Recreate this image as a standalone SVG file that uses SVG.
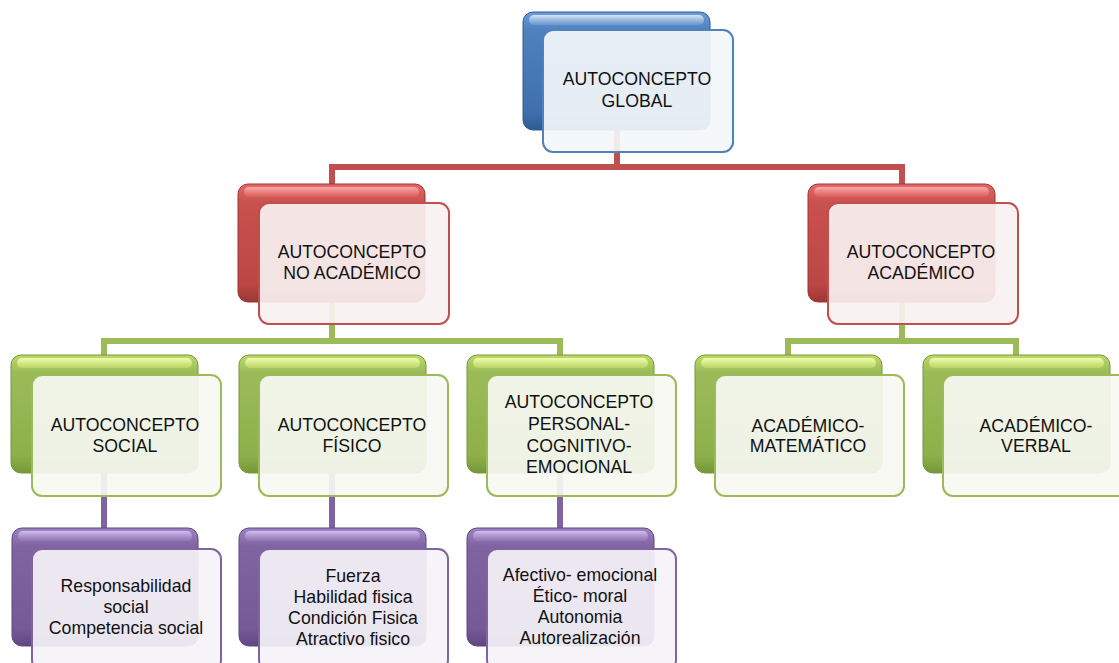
<svg xmlns="http://www.w3.org/2000/svg" width="1119" height="663" viewBox="0 0 1119 663">
<defs>
<linearGradient id="gB" x1="0" y1="0" x2="0" y2="1"><stop offset="0" stop-color="#6d9ddb"/><stop offset="0.15" stop-color="#4f81bd"/><stop offset="0.85" stop-color="#3f70ad"/><stop offset="1" stop-color="#2e5a93"/></linearGradient>
<linearGradient id="gR" x1="0" y1="0" x2="0" y2="1"><stop offset="0" stop-color="#e26a66"/><stop offset="0.15" stop-color="#c9514e"/><stop offset="0.85" stop-color="#bb4744"/><stop offset="1" stop-color="#9c3734"/></linearGradient>
<linearGradient id="gG" x1="0" y1="0" x2="0" y2="1"><stop offset="0" stop-color="#bcd96c"/><stop offset="0.15" stop-color="#9bbb59"/><stop offset="0.85" stop-color="#8db04a"/><stop offset="1" stop-color="#76973a"/></linearGradient>
<linearGradient id="gP" x1="0" y1="0" x2="0" y2="1"><stop offset="0" stop-color="#9f84c4"/><stop offset="0.15" stop-color="#8064a2"/><stop offset="0.85" stop-color="#765a98"/><stop offset="1" stop-color="#5f4681"/></linearGradient>
<linearGradient id="hB" x1="0" y1="0" x2="0" y2="1"><stop offset="0" stop-color="#ffffff" stop-opacity="0.75"/><stop offset="1" stop-color="#b9d3f3" stop-opacity="0.2"/></linearGradient>
<linearGradient id="hR" x1="0" y1="0" x2="0" y2="1"><stop offset="0" stop-color="#ffb4b2" stop-opacity="0.9"/><stop offset="1" stop-color="#f07a77" stop-opacity="0.3"/></linearGradient>
<linearGradient id="hG" x1="0" y1="0" x2="0" y2="1"><stop offset="0" stop-color="#f6ffb0" stop-opacity="0.95"/><stop offset="1" stop-color="#d8f07a" stop-opacity="0.4"/></linearGradient>
<linearGradient id="hP" x1="0" y1="0" x2="0" y2="1"><stop offset="0" stop-color="#d9c8f2" stop-opacity="0.9"/><stop offset="1" stop-color="#a78ccc" stop-opacity="0.3"/></linearGradient>
</defs>
<style>
.back{stroke-width:1}
.fr{stroke-width:2;fill-opacity:0.92}
.t{font-family:"Liberation Sans",Arial,sans-serif;font-size:17.7px;fill:#111;text-anchor:middle}
.cR{stroke:#c0504d;stroke-width:6;fill:none}
.cG{stroke:#9bbb59;stroke-width:6;fill:none}
.cP{stroke:#8064a2;stroke-width:6;fill:none}
.blue .back{fill:url(#gB);stroke:#2e5a93}
.blue .hl{fill:url(#hB)}
.blue .fr{fill:#f4f7fb;stroke:#4f81bd}
.red .back{fill:url(#gR);stroke:#9c3734}
.red .hl{fill:url(#hR)}
.red .fr{fill:#f9f1f1;stroke:#c0504d}
.green .back{fill:url(#gG);stroke:#76973a}
.green .hl{fill:url(#hG)}
.green .fr{fill:#f7f9f2;stroke:#9bbb59}
.purple .back{fill:url(#gP);stroke:#5f4681}
.purple .hl{fill:url(#hP)}
.purple .fr{fill:#f5f3f8;stroke:#8064a2}
</style>
<rect width="1119" height="663" fill="#ffffff"/>
<g id="connectors">
<path class="cR" d="M617,128 V167 M332,187 V167 H902 V187"/>
<path class="cG" d="M332,300 V341 M104,357 V341 H560 V357 M902,300 V341 M788,357 V341 H1016 V357"/>
<path class="cP" d="M104,473 V530 M332,473 V530 M560,473 V530"/>
</g>
<g id="n-global" class="blue">
<rect class="back" x="523" y="12" width="187" height="118" rx="10"/>
<rect class="hl" x="529" y="15" width="175" height="10" rx="5"/>
<rect class="fr" x="543" y="30" width="190" height="122" rx="10"/>
<text class="t" x="637" y="85">AUTOCONCEPTO</text>
<text class="t" x="637" y="107">GLOBAL</text>
</g>
<g id="n-noacad" class="red">
<rect class="back" x="238" y="184" width="187" height="118" rx="10"/>
<rect class="hl" x="244" y="187" width="175" height="10" rx="5"/>
<rect class="fr" x="259" y="203" width="190" height="121" rx="10"/>
<text class="t" x="352" y="258">AUTOCONCEPTO</text>
<text class="t" x="352" y="279">NO ACADÉMICO</text>
</g>
<g id="n-acad" class="red">
<rect class="back" x="808" y="184" width="187" height="118" rx="10"/>
<rect class="hl" x="814" y="187" width="175" height="10" rx="5"/>
<rect class="fr" x="828" y="203" width="190" height="121" rx="10"/>
<text class="t" x="921" y="258">AUTOCONCEPTO</text>
<text class="t" x="921" y="279">ACADÉMICO</text>
</g>
<g id="n-social" class="green">
<rect class="back" x="11" y="355" width="187" height="118" rx="10"/>
<rect class="hl" x="17" y="358" width="175" height="10" rx="5"/>
<rect class="fr" x="32" y="375" width="189" height="121" rx="10"/>
<text class="t" x="125" y="431">AUTOCONCEPTO</text>
<text class="t" x="125" y="452">SOCIAL</text>
</g>
<g id="n-fisico" class="green">
<rect class="back" x="239" y="355" width="187" height="118" rx="10"/>
<rect class="hl" x="245" y="358" width="175" height="10" rx="5"/>
<rect class="fr" x="259" y="375" width="189" height="121" rx="10"/>
<text class="t" x="352" y="431">AUTOCONCEPTO</text>
<text class="t" x="352" y="452">FÍSICO</text>
</g>
<g id="n-personal" class="green">
<rect class="back" x="467" y="355" width="187" height="118" rx="10"/>
<rect class="hl" x="473" y="358" width="175" height="10" rx="5"/>
<rect class="fr" x="487" y="375" width="189" height="121" rx="10"/>
<text class="t" x="579" y="408">AUTOCONCEPTO</text>
<text class="t" x="579" y="430">PERSONAL-</text>
<text class="t" x="579" y="452">COGNITIVO-</text>
<text class="t" x="579" y="473">EMOCIONAL</text>
</g>
<g id="n-matematico" class="green">
<rect class="back" x="695" y="355" width="187" height="118" rx="10"/>
<rect class="hl" x="701" y="358" width="175" height="10" rx="5"/>
<rect class="fr" x="715" y="375" width="189" height="121" rx="10"/>
<text class="t" x="808" y="432">ACADÉMICO-</text>
<text class="t" x="808" y="452">MATEMÁTICO</text>
</g>
<g id="n-verbal" class="green">
<rect class="back" x="923" y="355" width="187" height="118" rx="10"/>
<rect class="hl" x="929" y="358" width="175" height="10" rx="5"/>
<rect class="fr" x="943" y="375" width="189" height="121" rx="10"/>
<text class="t" x="1036" y="432">ACADÉMICO-</text>
<text class="t" x="1036" y="452">VERBAL</text>
</g>
<g id="n-social-items" class="purple">
<rect class="back" x="12" y="528" width="186" height="118" rx="10"/>
<rect class="hl" x="18" y="531" width="174" height="10" rx="5"/>
<rect class="fr" x="32" y="549" width="189" height="121" rx="10"/>
<text class="t" x="126" y="592">Responsabilidad</text>
<text class="t" x="126" y="613">social</text>
<text class="t" x="126" y="634">Competencia social</text>
</g>
<g id="n-fisico-items" class="purple">
<rect class="back" x="239" y="528" width="187" height="118" rx="10"/>
<rect class="hl" x="245" y="531" width="175" height="10" rx="5"/>
<rect class="fr" x="259" y="549" width="189" height="121" rx="10"/>
<text class="t" x="353" y="582">Fuerza</text>
<text class="t" x="353" y="603">Habilidad fisica</text>
<text class="t" x="353" y="624">Condición Fisica</text>
<text class="t" x="353" y="645">Atractivo fisico</text>
</g>
<g id="n-personal-items" class="purple">
<rect class="back" x="467" y="528" width="187" height="118" rx="10"/>
<rect class="hl" x="473" y="531" width="175" height="10" rx="5"/>
<rect class="fr" x="487" y="549" width="189" height="121" rx="10"/>
<text class="t" x="580" y="581">Afectivo- emocional</text>
<text class="t" x="580" y="602">Ético- moral</text>
<text class="t" x="580" y="623">Autonomia</text>
<text class="t" x="580" y="644">Autorealización</text>
</g>
</svg>
